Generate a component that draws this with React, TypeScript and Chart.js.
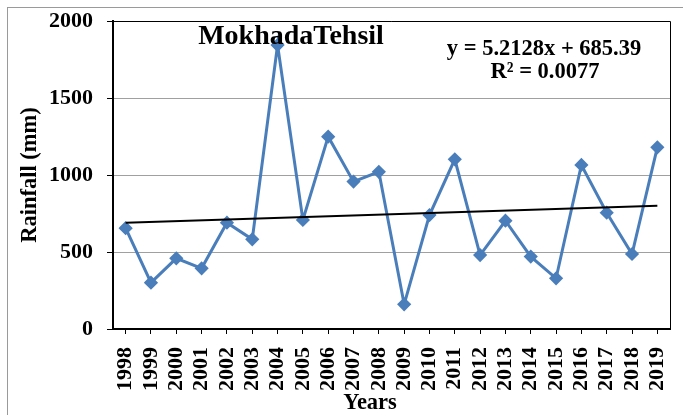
import React, { useEffect, useRef } from "react";
import { Chart, registerables } from "chart.js";

Chart.register(...registerables);

const years = ["1998","1999","2000","2001","2002","2003","2004","2005","2006","2007","2008","2009","2010","2011","2012","2013","2014","2015","2016","2017","2018","2019"];
const rainfall = [655, 301, 459, 394, 690, 582, 1844, 708, 1249, 957, 1021, 160, 740, 1102, 480, 703, 470, 329, 1065, 755, 487, 1180];
// linear trend end points (y = 5.2128x + 685.39 at x = 1 and x = 22)
const trend = [690.6, null, null, null, null, null, null, null, null, null, null, null, null, null, null, null, null, null, null, null, null, 800.1];
const yTicks = [0, 500, 1000, 1500, 2000];

const chartTitle = "MokhadaTehsil";
const equationText = "y = 5.2128x + 685.39";
const r2Text = "R² = 0.0077";
const yTitle = "Rainfall (mm)";
const xTitle = "Years";

const FONT = "'Liberation Serif', 'Times New Roman', serif";

const decorPlugin = {
  id: "decor",
  afterDraw(chart: any) {
    const ctx = chart.ctx;
    const a = chart.chartArea;
    ctx.save();
    ctx.strokeStyle = "#9a9a9a";
    ctx.lineWidth = 1;
    ctx.strokeRect(7.5, 7.5, 720, 500);
    ctx.strokeStyle = "#000";
    ctx.lineWidth = 1;
    ctx.beginPath();
    ctx.moveTo(a.left, a.top + 0.5);
    ctx.lineTo(a.right + 0.5, a.top + 0.5);
    ctx.lineTo(a.right + 0.5, a.bottom);
    ctx.stroke();
    ctx.fillStyle = "#000";
    ctx.font = `bold 28px ${FONT}`;
    ctx.textAlign = "center";
    ctx.textBaseline = "alphabetic";
    ctx.fillText(chartTitle, 291, 44);
    ctx.font = `bold 22.5px ${FONT}`;
    ctx.fillText(equationText, 544, 55);
    ctx.fillText(r2Text, 545, 78);
    ctx.fillText(xTitle, 370, 409);
    ctx.translate(36, 175);
    ctx.rotate(-Math.PI / 2);
    ctx.fillText(yTitle, 0, 0);
    ctx.restore();
  },
};

export default function App() {
  const ref = useRef<HTMLCanvasElement>(null);
  useEffect(() => {
    if (!ref.current) return;
    const chart = new Chart(ref.current, {
      type: "line",
      data: {
        labels: years,
        datasets: [
          {
            label: "Rainfall",
            data: rainfall,
            borderColor: "#4A7EBB",
            backgroundColor: "#4A7EBB",
            borderWidth: 3,
            pointStyle: "rectRot",
            pointRadius: 5,
            pointHoverRadius: 5,
            tension: 0,
            order: 1,
          },
          {
            label: "Trend",
            data: trend,
            borderColor: "#000",
            borderWidth: 2,
            pointRadius: 0,
            spanGaps: true,
            order: 0,
          },
        ],
      },
      options: {
        animation: false,
        responsive: false,
        maintainAspectRatio: false,
        layout: { padding: { top: 21, right: 13, left: 0, bottom: 0 } },
        plugins: { legend: { display: false }, tooltip: { enabled: false }, title: { display: false } },
        scales: {
          x: {
            type: "category",
            offset: true,
            grid: { drawOnChartArea: false, drawTicks: true, tickLength: 5, tickColor: "#000", offset: false },
            border: { color: "#000", width: 2 },
            ticks: {
              color: "#000",
              font: { family: FONT, size: 22, weight: "bold" },
              minRotation: 90,
              maxRotation: 90,
              padding: 13,
              autoSkip: false,
            },
            afterFit(scale: any) {
              scale.height = 86;
              scale.paddingLeft = 0;
              scale.paddingRight = 0;
            },
          },
          y: {
            min: 0,
            max: 2000,
            afterBuildTicks(scale: any) { scale.ticks = yTicks.map((v) => ({ value: v })); },
            grid: { color: "#a0a0a0", lineWidth: 1, tickLength: 6, tickColor: "#000" },
            border: { color: "#000", width: 2 },
            ticks: {
              color: "#000",
              font: { family: FONT, size: 22, weight: "bold" },
              padding: 14,
              callback: (v: any) => String(v),
            },
            afterFit(scale: any) {
              scale.width = 113;
              scale.paddingTop = 0;
              scale.paddingBottom = 0;
            },
          },
        },
      },
      plugins: [decorPlugin],
    } as any);
    return () => chart.destroy();
  }, []);
  return (
    <div style={{ position: "fixed", left: 0, top: 0, width: 683, height: 415, background: "#fff" }}>
      <canvas ref={ref} width={683} height={415} style={{ width: 683, height: 415 }} />
    </div>
  );
}
